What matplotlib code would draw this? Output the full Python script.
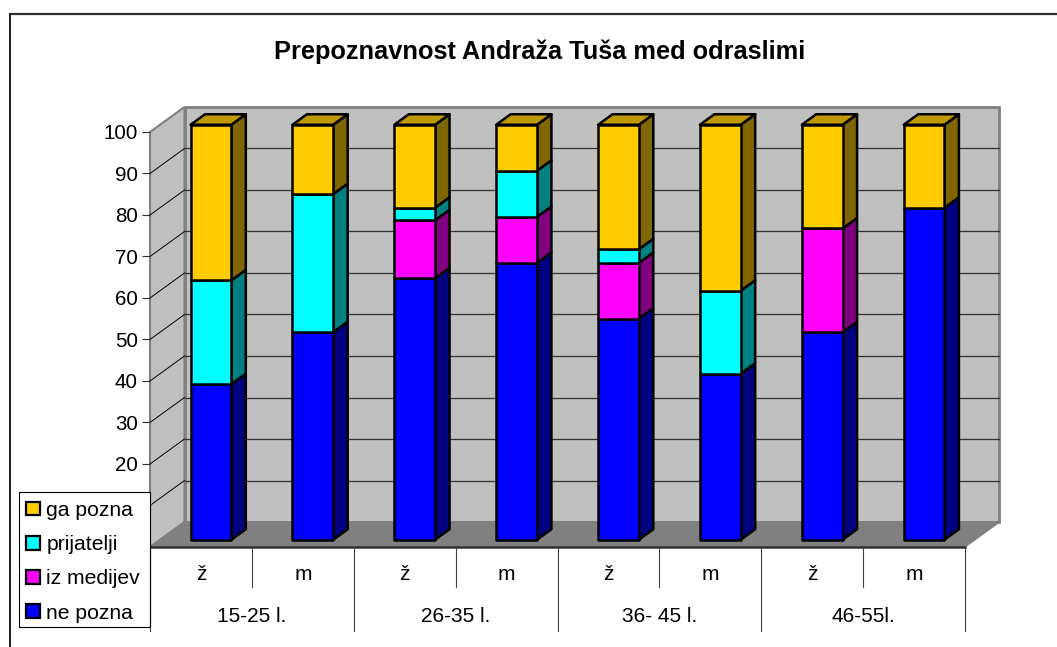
import matplotlib
matplotlib.use('Agg')
import matplotlib.pyplot as plt
from matplotlib.lines import Line2D
from matplotlib.patches import Polygon, Patch, Rectangle

plt.rcParams['font.family'] = ['Liberation Sans', 'DejaVu Sans']

# Data
spol = ['ž', 'm', 'ž', 'm', 'ž', 'm', 'ž', 'm']
skupine = ['15-25 l.', '26-35 l.', '36- 45 l.', '46-55l.']
ne_pozna = [37.5, 50, 63, 66.7, 53.3, 40, 50, 80]
iz_medijev = [0, 0, 14, 11.1, 13.4, 0, 25, 0]
prijatelji = [25, 33.3, 3, 11.1, 3.3, 20, 0, 0]
ga_pozna = [37.5, 16.7, 20, 11.1, 30, 40, 25, 20]
y_ticks = [0, 10, 20, 30, 40, 50, 60, 70, 80, 90, 100]
y_labels = ['', '', '20', '30', '40', '50', '60', '70', '80', '90', '100']

serije = [ne_pozna, iz_medijev, prijatelji, ga_pozna]
imena = ['ne pozna', 'iz medijev', 'prijatelji', 'ga pozna']
barve = ['#0000FF', '#FF00FF', '#00FFFF', '#FFCC00']
stranske = ['#000080', '#800080', '#008080', '#806600']
vrh_barva = '#C09900'

W, H = 1057, 647
fig = plt.figure(figsize=(W / 100, H / 100), dpi=100, facecolor='white')
ax = fig.add_axes([150 / W, 1 - 547 / H, 815 / W, 415 / H])
ax.set_xlim(0, 8)
ax.set_ylim(0, 100)
ax.patch.set_visible(False)
for s in ax.spines.values():
    s.set_visible(False)

# depth of the 3D box, in data units
DX = 34.5 / (815 / 8)
DY = 25 / 4.15


def p(x, y, d=0):
    return (x + d * DX, y + d * DY)


def poly(pts, **kw):
    ax.add_patch(Polygon(pts, closed=True, clip_on=False, **kw))


# walls and floor
poly([p(0, 0), p(0, 0, 1), p(0, 100, 1), p(0, 100)], fc='#C0C0C0', ec='#808080', lw=1.5, zorder=1)
poly([p(0, 0, 1), p(8, 0, 1), p(8, 100, 1), p(0, 100, 1)], fc='#C0C0C0', ec='#808080', lw=2, zorder=1)
poly([p(0, 0), p(8, 0), p(8, 0, 1), p(0, 0, 1)], fc='#808080', ec='#808080', lw=1, zorder=1.1)
for v in range(10, 100, 10):
    ax.plot(*zip(p(0, v), p(0, v, 1)), color='black', lw=0.7, zorder=1.2, clip_on=False)
    ax.plot(*zip(p(0, v, 1), p(8, v, 1)), color='#303030', lw=0.9, zorder=1.2, clip_on=False)

# stacked bars
d0, d1 = 0.29, 0.71
rob = 1.8
for i in range(8):
    x0, x1 = i + 0.3, i + 0.7
    dno = 0
    for j, ser in enumerate(serije):
        v = ser[i]
        if v == 0:
            continue
        top = dno + v
        poly([p(x1, dno, d0), p(x1, dno, d1), p(x1, top, d1), p(x1, top, d0)],
             fc=stranske[j], ec='black', lw=rob, joinstyle='round', zorder=3 + i * 0.1)
        poly([p(x0, dno, d0), p(x1, dno, d0), p(x1, top, d0), p(x0, top, d0)],
             fc=barve[j], ec='black', lw=rob, joinstyle='round', zorder=3 + i * 0.1)
        dno = top
    poly([p(x0, dno, d0), p(x1, dno, d0), p(x1, dno, d1), p(x0, dno, d1)],
         fc=vrh_barva, ec='black', lw=rob, joinstyle='round', zorder=3 + i * 0.1)

# axes ticks
ax.set_xticks([])
ax.set_yticks(y_ticks)
ax.set_yticklabels(y_labels)
ax.tick_params(axis='y', length=5.8, width=0.8, pad=3, labelsize=14.8, color='#303030')

# front edge and two level category axis
ax.plot([0, 8], [0, 0], color='#303030', lw=1.8, zorder=2, clip_on=False)
niz1 = -40 / 4.15
niz2 = -84 / 4.15
for i in range(9):
    spodaj = niz2 if i % 2 == 0 else niz1
    ax.plot([i, i], [0, spodaj], color='#404040', lw=0.8, clip_on=False, zorder=2)
for i, t in enumerate(spol):
    ax.text(i + 0.5, -27.5 / 4.15, t, ha='center', va='center', fontsize=15)
for i, t in enumerate(skupine):
    ax.text(2 * i + 1, -70 / 4.15, t, ha='center', va='center', fontsize=15)

# legend, its box is drawn separately so the rows can sit centred in it
ax.add_patch(Rectangle((19 / W, 1 - 627 / H), 131 / W, 135 / H, transform=fig.transFigure,
                       fc='white', ec='black', lw=0.8, clip_on=False, zorder=4.9))
roc = [Patch(fc=barve[j], ec='black', lw=1.6, label=imena[j]) for j in [3, 2, 1, 0]]
ax.legend(handles=roc, loc='lower left', bbox_to_anchor=(18 / W, 1 - 631 / H),
          bbox_transform=fig.transFigure, borderaxespad=0, frameon=False,
          fontsize=15.2, handlelength=0.62, handleheight=0.62, handletextpad=0.32,
          labelspacing=0.72, borderpad=0.4)

# frame and title
fig.add_artist(Line2D([9.5 / W, 9.5 / W], [0, 1 - 14 / H], color='#202020', lw=1.4))
fig.add_artist(Line2D([9.5 / W, 1], [1 - 14 / H, 1 - 14 / H], color='#303030', lw=1.6))
fig.text(540 / W, 1 - 52 / H, 'Prepoznavnost Andraža Tuša med odraslimi',
         ha='center', va='center', fontsize=18.3, fontweight='bold')

fig.savefig('out.png', dpi=100)
